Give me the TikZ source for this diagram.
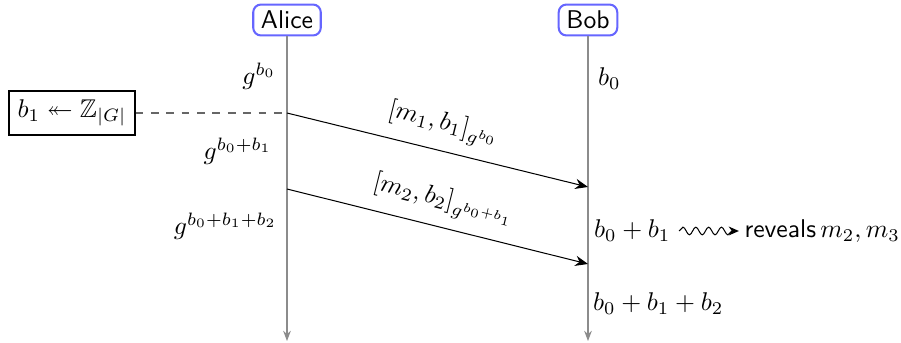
\documentclass[tikz,border=0pt]{standalone}
\usepackage{amsmath,amssymb}
\usetikzlibrary{arrows.meta,decorations.pathmorphing}
\begin{document}
\begin{tikzpicture}[x=0.39pt,y=-0.39pt,
  party/.style={draw=blue!60, thick, rounded corners=3pt, inner xsep=3pt, inner ysep=2.5pt, font=\sffamily},
  life/.style={draw=black!45, -{Stealth[length=4pt,width=3pt]}},
  msg/.style={draw=black, -{Stealth[length=5pt,width=4pt]}},
  sample/.style={draw, inner sep=3.33pt}]
\useasboundingbox (0,0) rectangle (901,343);
\node[party] (alice) at (287,20) {Alice};
\node[party] (bob) at (588,20) {Bob};
\coordinate (aend) at (287,341);
\coordinate (bend) at (588,341);
\draw[life] (alice) -- (aend);
\draw[life] (bob) -- (bend);
% Alice states
\node[anchor=east] (ga) at (285,76) {$g^{b_0}$};
\node[anchor=east] (gb) at (281,151) {$g^{b_0+b_1}$};
\node[anchor=east] (gc) at (286,226) {$g^{b_0+b_1+b_2}$};
% Bob states
\node[anchor=west] (ba) at (589,79) {$b_0$};
\node[anchor=west] (bb) at (585,231) {$b_0+b_1$};
\node[anchor=west] (bc) at (584,304) {$b_0+b_1+b_2$};
% sampling
\node[sample] (s) at (72,113) {$b_1 \twoheadleftarrow \mathbb{Z}_{|G|}$};
\coordinate (a1) at (287,113);
\draw[dashed, black!60, thick] (s) -- (a1);
% messages
\coordinate (b1) at (588,187);
\coordinate (a2) at (287,189);
\coordinate (b2) at (588,264);
\draw[msg] (a1) -- node[midway, above, sloped, yshift=1pt] (l1) {$[m_1,b_1]_{g^{b_0}}$} (b1);
\draw[msg] (a2) -- node[midway, above, sloped, yshift=1pt] (l2) {$[m_2,b_2]_{g^{b_0+b_1}}$} (b2);
% reveal
\node[anchor=west, inner sep=0pt] (rev) at (744,231) {\textsf{reveals}\,$m_2,m_3$};
\coordinate (sq) at (679,231);
\draw[-{Stealth[length=4pt,width=3.5pt]}, decorate, decoration={snake, amplitude=1.5pt, segment length=5pt, post length=2.5pt}] (sq) -- ([xshift=-2pt]rev.west);
\end{tikzpicture}
\end{document}
